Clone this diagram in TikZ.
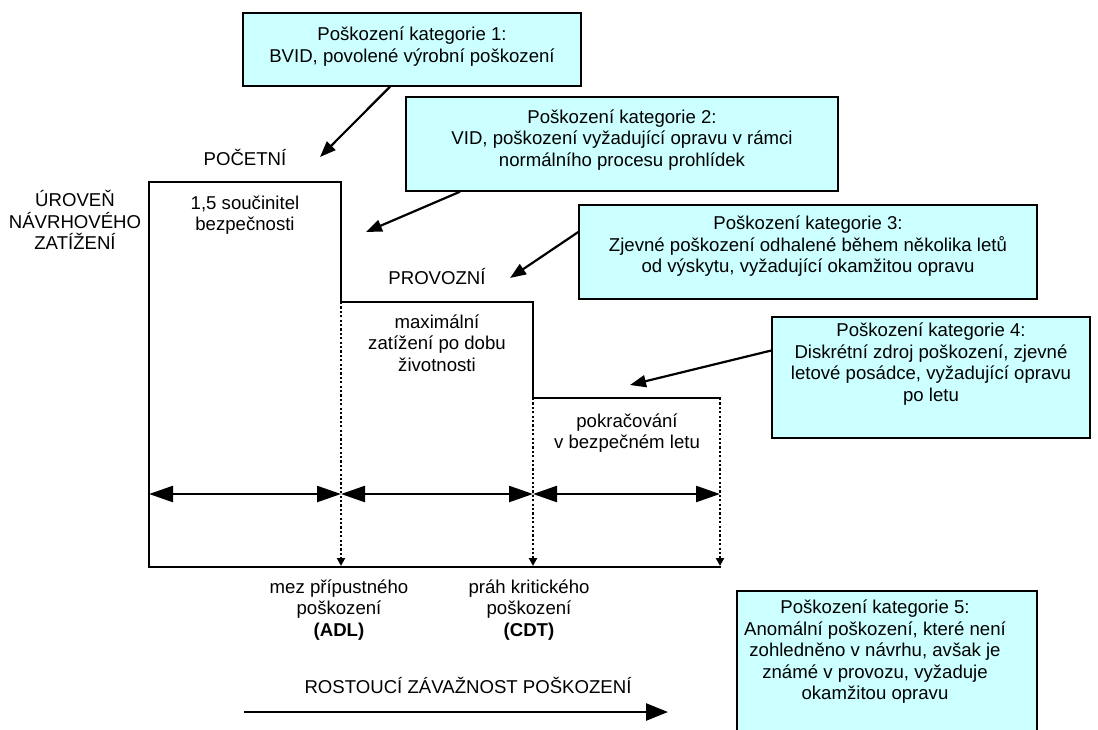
\documentclass[tikz,border=0pt]{standalone}
\usepackage{fontspec}
\setmainfont{Liberation Sans}
\usetikzlibrary{arrows.meta,shadows}
\definecolor{catcyan}{RGB}{204,255,255}
% box text: width, height, top pad, lines
\newcommand{\cattext}[4]{\parbox[c][#2][t]{#1}{\centering\vspace*{#3}#4}}
\begin{document}
\begin{tikzpicture}[x=1pt,y=-1pt,
  every node/.style={font=\fontsize{18.6pt}{21.5pt}\selectfont},
  catbox/.style={draw,line width=1.4pt,fill=catcyan,inner sep=0pt,
    drop shadow={shadow xshift=1.3pt,shadow yshift=-1.3pt,fill=black!60,opacity=1}},
  txt/.style={align=center,inner sep=1pt},
  stepline/.style={line width=2pt,line cap=rect},
  dotline/.style={line width=2.2pt,dash pattern=on 2.2pt off 2.2pt,-{Triangle[length=8pt,width=8pt]}},
  spanarrow/.style={line width=2.4pt,{Triangle[length=24pt,width=16pt]}-{Triangle[length=24pt,width=16pt]}},
  growarrow/.style={line width=2.6pt,-{Triangle[length=22pt,width=17pt]}},
  pointer/.style={line width=2.2pt,-{Triangle[length=16pt,width=12pt]}}]
\useasboundingbox (0,0) rectangle (1098,729);
% Category boxes
\node[catbox] (cat1) at (412,49.5) {\cattext{338pt}{73pt}{14pt}{Poškození kategorie 1:\\BVID, povolené výrobní poškození}};
\node[catbox] (cat2) at (622,144) {\cattext{432pt}{94pt}{12.5pt}{Poškození kategorie 2:\\VID, poškození vyžadující opravu v rámci\\normálního procesu prohlídek}};
\node[catbox] (cat3) at (808,252) {\cattext{458pt}{94pt}{11pt}{Poškození kategorie 3:\\Zjevné poškození odhalené během několika letů\\od výskytu, vyžadující okamžitou opravu}};
\node[catbox] (cat4) at (931,377.5) {\cattext{318pt}{121pt}{6pt}{Poškození kategorie 4:\\Diskrétní zdroj poškození, zjevné\\letové posádce, vyžadující opravu\\po letu}};
\node[catbox] (cat5) at (887,671) {\cattext{300pt}{160pt}{9pt}{\rightskip=24pt plus 1fil\relax
  Poškození kategorie 5:\\Anomální poškození, které není\\zohledněno v návrhu, avšak je\\známé v provozu, vyžaduje\\okamžitou opravu}};
% Load levels
\draw[stepline] (149,567) -- (149,182) -- (341,182) -- (341,302) -- (533,302) -- (533,398) -- (720,398);
\draw[stepline] (149,567) -- (720,567);
\draw[dotline] (341,302) -- (341,566);
\draw[dotline] (533,398) -- (533,566);
\draw[dotline] (720,398) -- (720,566);
\coordinate (k0) at (149,494);
\coordinate (k1) at (341,494);
\coordinate (k2) at (533,494);
\coordinate (k3) at (720,494);
\draw[spanarrow] (k0) -- (k1);
\draw[spanarrow] (k1) -- (k2);
\draw[spanarrow] (k2) -- (k3);
% Labels
\node[txt] (pocetni) at (245,157) {POČETNÍ};
\node[txt] (uroven) at (75,220) {ÚROVEŇ\\NÁVRHOVÉHO\\ZATÍŽENÍ};
\node[txt] (soucin) at (245,215) {1,5 součinitel\\bezpečnosti};
\node[txt] (provozni) at (437,277) {PROVOZNÍ};
\node[txt] (maxzat) at (437,343) {maximální\\zatížení po dobu\\životnosti};
\node[txt] (pokrac) at (627,433) {pokračování\\v bezpečném letu};
\node[txt] (adl) at (339,610) {mez přípustného\\poškození\\\textbf{(ADL)}};
\node[txt] (cdt) at (529,610) {práh kritického\\poškození\\\textbf{(CDT)}};
\node[txt] (rostouci) at (468,685) {ROSTOUCÍ ZÁVAŽNOST POŠKOZENÍ};
\coordinate (g0) at (244,712);
\coordinate (g1) at (668,712);
\draw[growarrow] (g0) -- (g1);
% Pointers from boxes
\coordinate (tip1) at (320,157);
\coordinate (tip2) at (366,232);
\coordinate (tip3) at (510,278);
\coordinate (tip4) at (630,385);
\draw[pointer] ([xshift=-22pt]cat1.south) -- (tip1);
\draw[pointer] ([xshift=-162pt]cat2.south) -- (tip2);
\draw[pointer] ([yshift=20pt]cat3.west) -- (tip3);
\draw[pointer] ([yshift=27pt]cat4.west) -- (tip4);
\end{tikzpicture}
\end{document}
